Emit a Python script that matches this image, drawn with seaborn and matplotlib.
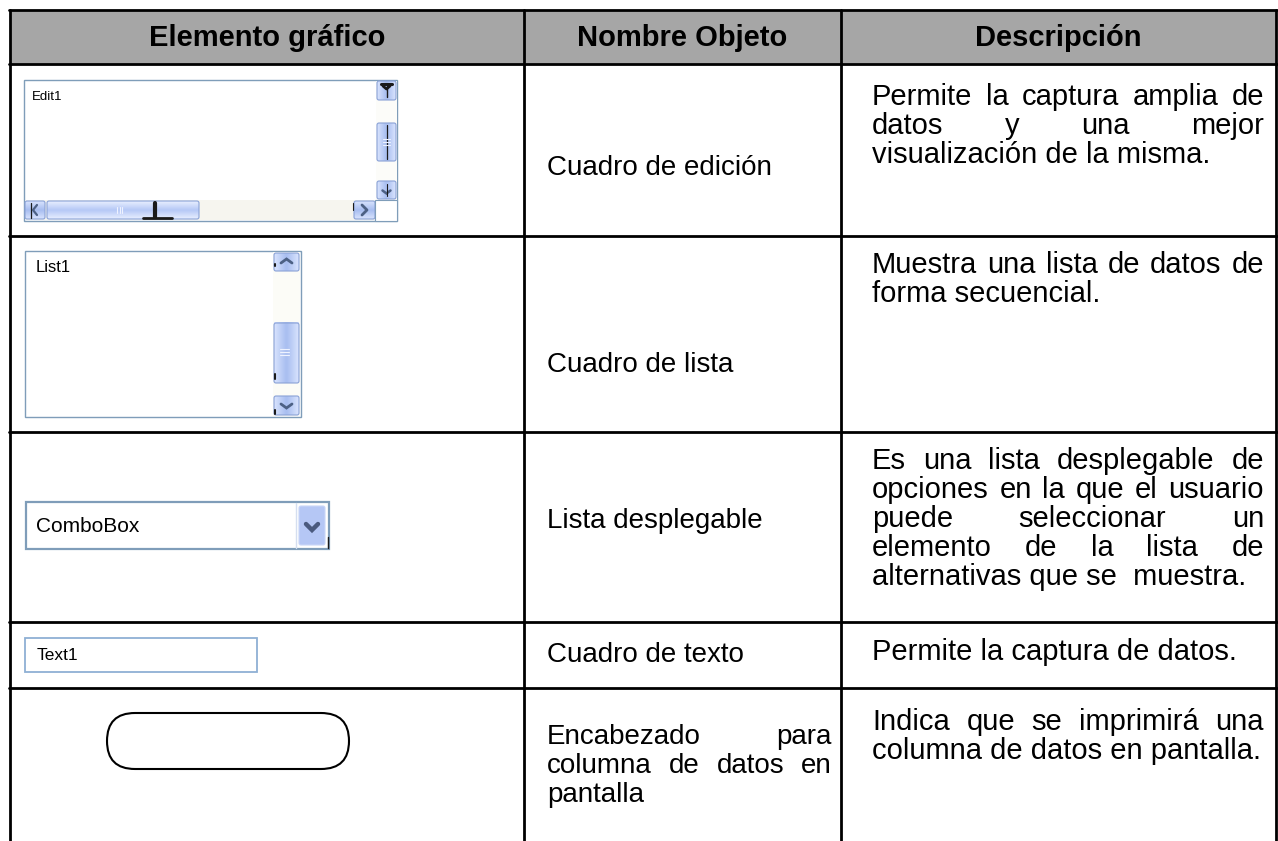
import numpy as np
import seaborn as sns
import matplotlib.pyplot as plt
from matplotlib.patches import Rectangle, FancyBboxPatch

# ---------- table content ----------
headers = ["Elemento gráfico", "Nombre Objeto", "Descripción"]
widget_kinds = ["edit", "list", "combo", "text", "oval"]
widget_labels = ["Edit1", "List1", "ComboBox", "Text1", ""]
object_names = [
    ["Cuadro de edición"],
    ["Cuadro de lista"],
    ["Lista desplegable"],
    ["Cuadro de texto"],
    ["Encabezado para", "columna de datos en", "pantalla"],
]
descriptions = [
    ["Permite la captura amplia de", "datos y una mejor", "visualización de la misma."],
    ["Muestra una lista de datos de", "forma secuencial."],
    ["Es una lista desplegable de", "opciones en la que el usuario",
     "puede seleccionar un", "elemento de la lista de",
     "alternativas que se  muestra."],
    ["Permite la captura de datos."],
    ["Indica que se imprimirá una", "columna de datos en pantalla."],
]

# ---------- layout (pixels) ----------
W, H = 1278, 841
X_COLS = [10, 524, 841, 1276]
Y_ROWS = [10, 64, 236, 432, 622, 688, 841]
NAME_X = (547, 832)
DESC_X = (872, 1264)
NAME_Y = [168, 365, 521, 655, 737]
DESC_Y = [97, 265, 461, 652, 722]
LINE_H = 29
NAME_SIZE = 20
DESC_SIZE = 21
HEAD_SIZE = 21
FONT = "Liberation Sans"

BORDER = "#7f9db9"
BTN_DARK = "#a7bdf0"
TRACK = "#f6f5ef"
GLYPH = "#4d6185"

sns.set_theme(style="white", rc={"text.color": "black"})
plt.rcParams['font.family'] = [FONT, 'DejaVu Sans']

fig = plt.figure(figsize=(W / 100, H / 100), dpi=100)
ax = fig.add_axes([0, 0, 1, 1])
ax.set_xlim(0, W)
ax.set_ylim(H, 0)
ax.axis('off')
renderer = fig.canvas.get_renderer()


def text_width(t):
    return t.get_window_extent(renderer).width


def put_line(s, x0, x1, y, justify, size):
    words = s.split()
    if not justify or len(words) < 2:
        ax.text(x0, y, s, fontsize=size, va='center', ha='left', family=FONT, color='black')
        return
    objs = [ax.text(x0, y, w, fontsize=size, va='center', ha='left', family=FONT, color='black')
            for w in words]
    widths = [text_width(o) for o in objs]
    gap = max((x1 - x0 - sum(widths)) / (len(words) - 1), 4)
    x = x0
    for o, w in zip(objs, widths):
        o.set_x(x)
        x += w + gap


def put_paragraph(lines, xr, y0, size):
    for i, s in enumerate(lines):
        put_line(s, xr[0], xr[1], y0 + i * LINE_H, justify=(i < len(lines) - 1), size=size)


def grad_rect(x0, y0, x1, y1, c0, c1, horizontal=False):
    a = np.array(sns.blend_palette([c0, c1, c0], 16))
    img = a[None, :, :] if horizontal else a[:, None, :]
    ax.imshow(img, extent=(x0, x1, y1, y0), aspect='auto', interpolation='bilinear', zorder=2)
    ax.add_patch(FancyBboxPatch((x0, y0), x1 - x0, y1 - y0,
                                boxstyle="round,pad=0,rounding_size=2",
                                fc='none', ec='#8aa2d6', lw=0.8, zorder=3))


def chevron(cx, cy, up, w=6, h=4, lw=2.2, color=GLYPH):
    d = -h if up else h
    ax.plot([cx - w, cx, cx + w], [cy - d / 2, cy + d / 2, cy - d / 2],
            color=color, lw=lw, solid_capstyle='round', solid_joinstyle='miter', zorder=4)


def draw_edit(label):
    ax.add_patch(Rectangle((24, 80), 373, 141, fc='white', ec=BORDER, lw=1, zorder=1))
    ax.text(32, 97, label, fontsize=9.5, va='center', family=FONT, color='black')
    # vertical scrollbar
    ax.add_patch(Rectangle((376, 81), 21, 119, fc='#fcfcf9', ec='none', zorder=1.5))
    grad_rect(377, 81, 396, 100, '#d7e2fd', BTN_DARK, horizontal=True)
    grad_rect(377, 123, 396, 161, '#d7e2fd', BTN_DARK, horizontal=True)
    grad_rect(377, 181, 396, 199, '#d7e2fd', BTN_DARK, horizontal=True)
    ax.plot([386.5, 386.5], [125, 159], color='k', lw=0.9, zorder=4)
    for yy in (139, 142, 145):
        ax.plot([383, 390], [yy, yy], color='#eef2ff', lw=0.8, zorder=5)
    ax.plot([381, 392], [84, 84], color='k', lw=2.2, zorder=4)
    ax.plot([383, 386.5, 390], [86, 89, 86], color='k', lw=2, zorder=4)
    ax.plot([386.5, 386.5], [84, 97], color='k', lw=1, zorder=4)
    chevron(386.5, 192, up=False, w=4, h=3, lw=1.8)
    ax.plot([386.5, 386.5], [184, 196], color='k', lw=0.8, zorder=4)
    # horizontal scrollbar
    ax.add_patch(Rectangle((25, 200), 350, 20, fc=TRACK, ec='none', zorder=1.5))
    grad_rect(25, 201, 45, 219, '#d7e2fd', BTN_DARK)
    grad_rect(47, 201, 199, 219, '#e6edff', '#b5c8f6')
    grad_rect(354, 201, 375, 219, '#d7e2fd', BTN_DARK)
    for xx in (117, 119.5, 122):
        ax.plot([xx, xx], [207, 213], color='#eef2ff', lw=0.8, zorder=5)
    ax.plot([155, 155], [203, 217], color='k', lw=3, zorder=4)
    ax.plot([143, 172], [218, 218], color='k', lw=2, zorder=4)
    ax.plot([31, 31], [203, 218], color='k', lw=0.9, zorder=4)
    ax.plot([37, 33, 37], [205, 210, 215], color=GLYPH, lw=1.6, zorder=4)
    ax.plot([362, 367, 362], [205, 210, 215], color=GLYPH, lw=2, zorder=4)
    ax.plot([353, 353], [203, 210], color='k', lw=0.8, zorder=4)
    ax.add_patch(Rectangle((375, 200), 22, 21, fc='white', ec=BORDER, lw=0.8, zorder=3))


def draw_list(label):
    ax.add_patch(Rectangle((25, 251), 276, 166, fc='white', ec=BORDER, lw=1, zorder=1))
    ax.text(36, 267, label, fontsize=12, va='center', family=FONT, color='black')
    ax.add_patch(Rectangle((273, 252), 27, 164, fc='#fcfcf7', ec='none', zorder=1.5))
    grad_rect(274, 253, 299, 271, '#d7e2fd', BTN_DARK, horizontal=True)
    grad_rect(274, 323, 299, 383, '#d7e2fd', BTN_DARK, horizontal=True)
    grad_rect(274, 396, 299, 415, '#d7e2fd', BTN_DARK, horizontal=True)
    for yy in (349, 352, 355):
        ax.plot([280, 289], [yy, yy], color='#eef2ff', lw=0.8, zorder=5)
    chevron(286.5, 261, up=True, w=5.5, h=4, lw=2)
    chevron(286.5, 406, up=False, w=5.5, h=4, lw=2)
    ax.plot([275, 275], [264, 266], color='k', lw=1.5, zorder=5)
    ax.plot([275, 275], [374, 379], color='k', lw=1.5, zorder=5)
    ax.plot([275, 275], [410, 414], color='k', lw=1.5, zorder=5)


def draw_combo(label):
    ax.add_patch(Rectangle((26, 502), 303, 47, fc='white', ec=BORDER, lw=1.6, zorder=1))
    ax.plot([296, 296], [503, 548], color='#d5dff0', lw=1, zorder=2)
    ax.add_patch(FancyBboxPatch((299, 506), 26, 39, boxstyle="round,pad=0,rounding_size=2",
                                fc='#b5c7f5', ec='#c9d6f7', lw=0.8, zorder=2))
    chevron(312, 527, up=False, w=6, h=6, lw=3.2, color='#4a5a7e')
    ax.plot([328, 328], [537, 548], color='k', lw=1, zorder=4)
    ax.text(36, 527, label, fontsize=15, va='center', family=FONT, color='black')


def draw_text(label):
    ax.add_patch(Rectangle((25, 638), 232, 34, fc='white', ec='#8fb0d4', lw=1.3, zorder=1))
    ax.text(37, 655, label, fontsize=12.5, va='center', family=FONT, color='black')


def draw_oval(label):
    ax.add_patch(FancyBboxPatch((107, 713), 242, 56, boxstyle="round,pad=0,rounding_size=28",
                                fc='white', ec='black', lw=1.5, zorder=2))


drawers = {"edit": draw_edit, "list": draw_list, "combo": draw_combo,
           "text": draw_text, "oval": draw_oval}

# ---------- header ----------
ax.add_patch(Rectangle((X_COLS[0], Y_ROWS[0]), X_COLS[-1] - X_COLS[0], Y_ROWS[1] - Y_ROWS[0],
                       fc='#a6a6a6', ec='none', zorder=0))
for i, h in enumerate(headers):
    ax.text((X_COLS[i] + X_COLS[i + 1]) / 2, (Y_ROWS[0] + Y_ROWS[1]) / 2 + 1, h,
            fontsize=HEAD_SIZE, fontweight='bold', ha='center', va='center',
            family=FONT, color='black')

# ---------- rows ----------
for r in range(len(widget_kinds)):
    drawers[widget_kinds[r]](widget_labels[r])
    put_paragraph(object_names[r], NAME_X, NAME_Y[r], NAME_SIZE)
    put_paragraph(descriptions[r], DESC_X, DESC_Y[r], DESC_SIZE)

# ---------- grid lines ----------
for y in Y_ROWS[:-1]:
    ax.plot([X_COLS[0] - 1, X_COLS[-1] + 1], [y, y], color='black', lw=2, zorder=6)
for x in X_COLS:
    ax.plot([x, x], [Y_ROWS[0], H], color='black', lw=2, zorder=6)

fig.savefig("out.png", dpi=100)
